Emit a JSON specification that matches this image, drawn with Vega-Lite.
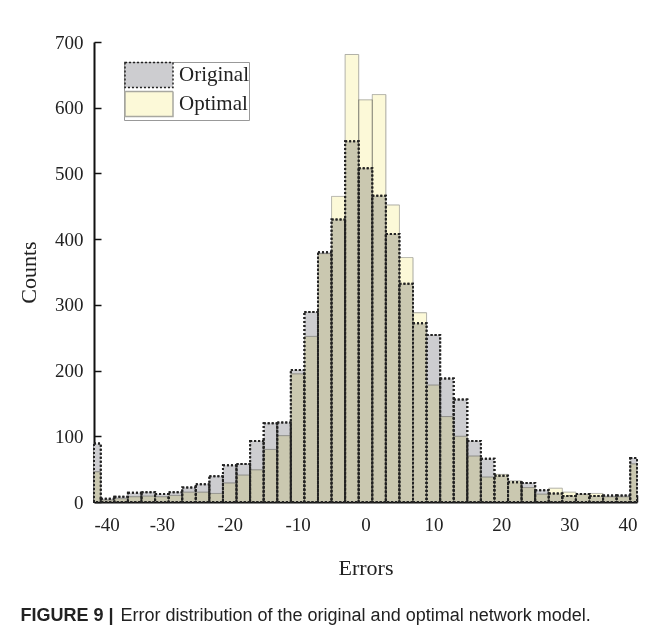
{
  "$schema": "https://vega.github.io/schema/vega-lite/v6.json",
  "autosize": {"type": "none"},
  "width": 543,
  "height": 460,
  "padding": {"left": 94, "top": 42, "right": 18, "bottom": 135},
  "background": "white",
  "config": {
    "view": {"stroke": null},
    "axis": {
      "grid": false,
      "domainColor": "#111111",
      "domainWidth": 2,
      "tickColor": "#111111",
      "tickWidth": 1.5,
      "tickSize": -7,
      "labelFont": "Liberation Serif",
      "labelFontSize": 19,
      "labelColor": "#222222",
      "labelExpr": "'' + datum.value",
      "titleFont": "Liberation Serif",
      "titleFontSize": 22,
      "titleFontWeight": "normal",
      "titleColor": "#222222"
    }
  },
  "resolve": {"axis": {"x": "independent"}},
  "data": {
    "values": [
      {"bin_start": -41, "bin_end": -39, "series": "Original", "count": 89},
      {"bin_start": -39, "bin_end": -37, "series": "Original", "count": 5},
      {"bin_start": -37, "bin_end": -35, "series": "Original", "count": 8},
      {"bin_start": -35, "bin_end": -33, "series": "Original", "count": 14},
      {"bin_start": -33, "bin_end": -31, "series": "Original", "count": 15},
      {"bin_start": -31, "bin_end": -29, "series": "Original", "count": 12},
      {"bin_start": -29, "bin_end": -27, "series": "Original", "count": 15},
      {"bin_start": -27, "bin_end": -25, "series": "Original", "count": 22},
      {"bin_start": -25, "bin_end": -23, "series": "Original", "count": 27},
      {"bin_start": -23, "bin_end": -21, "series": "Original", "count": 39},
      {"bin_start": -21, "bin_end": -19, "series": "Original", "count": 56},
      {"bin_start": -19, "bin_end": -17, "series": "Original", "count": 58},
      {"bin_start": -17, "bin_end": -15, "series": "Original", "count": 93},
      {"bin_start": -15, "bin_end": -13, "series": "Original", "count": 120},
      {"bin_start": -13, "bin_end": -11, "series": "Original", "count": 121},
      {"bin_start": -11, "bin_end": -9, "series": "Original", "count": 201},
      {"bin_start": -9, "bin_end": -7, "series": "Original", "count": 289},
      {"bin_start": -7, "bin_end": -5, "series": "Original", "count": 380},
      {"bin_start": -5, "bin_end": -3, "series": "Original", "count": 430},
      {"bin_start": -3, "bin_end": -1, "series": "Original", "count": 549},
      {"bin_start": -1, "bin_end": 1, "series": "Original", "count": 508},
      {"bin_start": 1, "bin_end": 3, "series": "Original", "count": 466},
      {"bin_start": 3, "bin_end": 5, "series": "Original", "count": 408},
      {"bin_start": 5, "bin_end": 7, "series": "Original", "count": 332},
      {"bin_start": 7, "bin_end": 9, "series": "Original", "count": 272},
      {"bin_start": 9, "bin_end": 11, "series": "Original", "count": 254},
      {"bin_start": 11, "bin_end": 13, "series": "Original", "count": 188},
      {"bin_start": 13, "bin_end": 15, "series": "Original", "count": 156},
      {"bin_start": 15, "bin_end": 17, "series": "Original", "count": 93},
      {"bin_start": 17, "bin_end": 19, "series": "Original", "count": 66},
      {"bin_start": 19, "bin_end": 21, "series": "Original", "count": 40},
      {"bin_start": 21, "bin_end": 23, "series": "Original", "count": 30},
      {"bin_start": 23, "bin_end": 25, "series": "Original", "count": 29},
      {"bin_start": 25, "bin_end": 27, "series": "Original", "count": 18},
      {"bin_start": 27, "bin_end": 29, "series": "Original", "count": 13},
      {"bin_start": 29, "bin_end": 31, "series": "Original", "count": 9},
      {"bin_start": 31, "bin_end": 33, "series": "Original", "count": 12},
      {"bin_start": 33, "bin_end": 35, "series": "Original", "count": 9},
      {"bin_start": 35, "bin_end": 37, "series": "Original", "count": 10},
      {"bin_start": 37, "bin_end": 39, "series": "Original", "count": 10},
      {"bin_start": 39, "bin_end": 41, "series": "Original", "count": 67},
      {"bin_start": -41, "bin_end": -39, "series": "Optimal", "count": 46},
      {"bin_start": -39, "bin_end": -37, "series": "Optimal", "count": 3},
      {"bin_start": -37, "bin_end": -35, "series": "Optimal", "count": 5},
      {"bin_start": -35, "bin_end": -33, "series": "Optimal", "count": 8},
      {"bin_start": -33, "bin_end": -31, "series": "Optimal", "count": 9},
      {"bin_start": -31, "bin_end": -29, "series": "Optimal", "count": 8},
      {"bin_start": -29, "bin_end": -27, "series": "Optimal", "count": 10},
      {"bin_start": -27, "bin_end": -25, "series": "Optimal", "count": 15},
      {"bin_start": -25, "bin_end": -23, "series": "Optimal", "count": 15},
      {"bin_start": -23, "bin_end": -21, "series": "Optimal", "count": 13},
      {"bin_start": -21, "bin_end": -19, "series": "Optimal", "count": 29},
      {"bin_start": -19, "bin_end": -17, "series": "Optimal", "count": 41},
      {"bin_start": -17, "bin_end": -15, "series": "Optimal", "count": 49},
      {"bin_start": -15, "bin_end": -13, "series": "Optimal", "count": 80},
      {"bin_start": -13, "bin_end": -11, "series": "Optimal", "count": 101},
      {"bin_start": -11, "bin_end": -9, "series": "Optimal", "count": 195},
      {"bin_start": -9, "bin_end": -7, "series": "Optimal", "count": 252},
      {"bin_start": -7, "bin_end": -5, "series": "Optimal", "count": 378},
      {"bin_start": -5, "bin_end": -3, "series": "Optimal", "count": 465},
      {"bin_start": -3, "bin_end": -1, "series": "Optimal", "count": 681},
      {"bin_start": -1, "bin_end": 1, "series": "Optimal", "count": 612},
      {"bin_start": 1, "bin_end": 3, "series": "Optimal", "count": 620},
      {"bin_start": 3, "bin_end": 5, "series": "Optimal", "count": 452},
      {"bin_start": 5, "bin_end": 7, "series": "Optimal", "count": 372},
      {"bin_start": 7, "bin_end": 9, "series": "Optimal", "count": 288},
      {"bin_start": 9, "bin_end": 11, "series": "Optimal", "count": 178},
      {"bin_start": 11, "bin_end": 13, "series": "Optimal", "count": 130},
      {"bin_start": 13, "bin_end": 15, "series": "Optimal", "count": 100},
      {"bin_start": 15, "bin_end": 17, "series": "Optimal", "count": 70},
      {"bin_start": 17, "bin_end": 19, "series": "Optimal", "count": 38},
      {"bin_start": 19, "bin_end": 21, "series": "Optimal", "count": 42},
      {"bin_start": 21, "bin_end": 23, "series": "Optimal", "count": 32},
      {"bin_start": 23, "bin_end": 25, "series": "Optimal", "count": 22},
      {"bin_start": 25, "bin_end": 27, "series": "Optimal", "count": 12},
      {"bin_start": 27, "bin_end": 29, "series": "Optimal", "count": 21},
      {"bin_start": 29, "bin_end": 31, "series": "Optimal", "count": 15},
      {"bin_start": 31, "bin_end": 33, "series": "Optimal", "count": 12},
      {"bin_start": 33, "bin_end": 35, "series": "Optimal", "count": 13},
      {"bin_start": 35, "bin_end": 37, "series": "Optimal", "count": 8},
      {"bin_start": 37, "bin_end": 39, "series": "Optimal", "count": 8},
      {"bin_start": 39, "bin_end": 41, "series": "Optimal", "count": 58}
    ]
  },
  "encoding": {
    "x2": {"field": "bin_end"},
    "y": {
      "field": "count",
      "type": "quantitative",
      "scale": {"domain": [0, 700], "nice": false},
      "axis": {"values": [0, 100, 200, 300, 400, 500, 600, 700], "title": "Counts", "labelPadding": 18, "titlePadding": 14}
    },
    "y2": {"datum": 0}
  },
  "layer": [
    {
      "transform": [{"filter": "datum.series === 'Original'"}],
      "mark": {"type": "bar", "strokeWidth": 2},
      "encoding": {
        "x": {
          "field": "bin_start",
          "type": "quantitative",
          "scale": {"domain": [-40, 40], "nice": false, "clamp": true},
          "axis": {"orient": "bottom", "values": [-40, -30, -20, -10, 0, 10, 20, 30, 40], "title": "Errors", "labelPadding": 20, "titlePadding": 23}
        },
        "color": {
          "field": "series",
          "type": "nominal",
          "scale": {"domain": ["Original", "Optimal"], "range": ["#cdcdd0", "#fcf9d8"]},
          "legend": {
            "title": null,
            "orient": "none",
            "legendX": 30,
            "legendY": 20,
            "symbolType": "M-2,-1.04H2V1.04H-2Z",
            "symbolSize": 576,
            "symbolOffset": 12,
            "symbolStrokeWidth": 1.5,
            "labelFont": "Liberation Serif",
            "labelFontSize": 21,
            "labelColor": "#222222",
            "labelOffset": 17,
            "rowPadding": -3,
            "padding": 0,
            "strokeColor": "#999999",
            "fillColor": "white"
          }
        },
        "stroke": {
          "field": "series",
          "type": "nominal",
          "scale": {"domain": ["Original", "Optimal"], "range": ["#222222", "#a8a8a0"]}
        },
        "strokeDash": {
          "field": "series",
          "type": "nominal",
          "scale": {"domain": ["Original", "Optimal"], "range": [[2, 2], [1, 0]]}
        }
      }
    },
    {
      "transform": [{"filter": "datum.series === 'Optimal'"}],
      "mark": {"type": "bar", "strokeWidth": 1, "blend": "multiply"},
      "encoding": {
        "x": {
          "field": "bin_start",
          "type": "quantitative",
          "axis": {
            "orient": "bottom",
            "domain": false,
            "ticks": false,
            "labels": false,
            "title": "FIGURE 9 |",
            "titleFont": "Liberation Sans",
            "titleFontSize": 18,
            "titleFontWeight": "bold",
            "titleColor": "#222222",
            "titleAlign": "left",
            "titleAnchor": "start",
            "titleBaseline": "alphabetic",
            "titleX": -74,
            "titleY": 118
          }
        },
        "color": {"field": "series", "type": "nominal"},
        "stroke": {"field": "series", "type": "nominal"},
        "strokeDash": {"field": "series", "type": "nominal"}
      }
    },
    {
      "transform": [{"filter": "datum.series === 'Original'"}],
      "mark": {"type": "bar", "fillOpacity": 0, "stroke": "#222222", "strokeDash": [2, 2], "strokeWidth": 2},
      "encoding": {
        "x": {
          "field": "bin_start",
          "type": "quantitative",
          "axis": {
            "orient": "bottom",
            "domain": false,
            "ticks": false,
            "labels": false,
            "title": "Error distribution of the original and optimal network model.",
            "titleFont": "Liberation Sans",
            "titleFontSize": 18,
            "titleFontWeight": "normal",
            "titleColor": "#222222",
            "titleAlign": "left",
            "titleAnchor": "start",
            "titleBaseline": "alphabetic",
            "titleX": 26,
            "titleY": 118
          }
        }
      }
    }
  ]
}
